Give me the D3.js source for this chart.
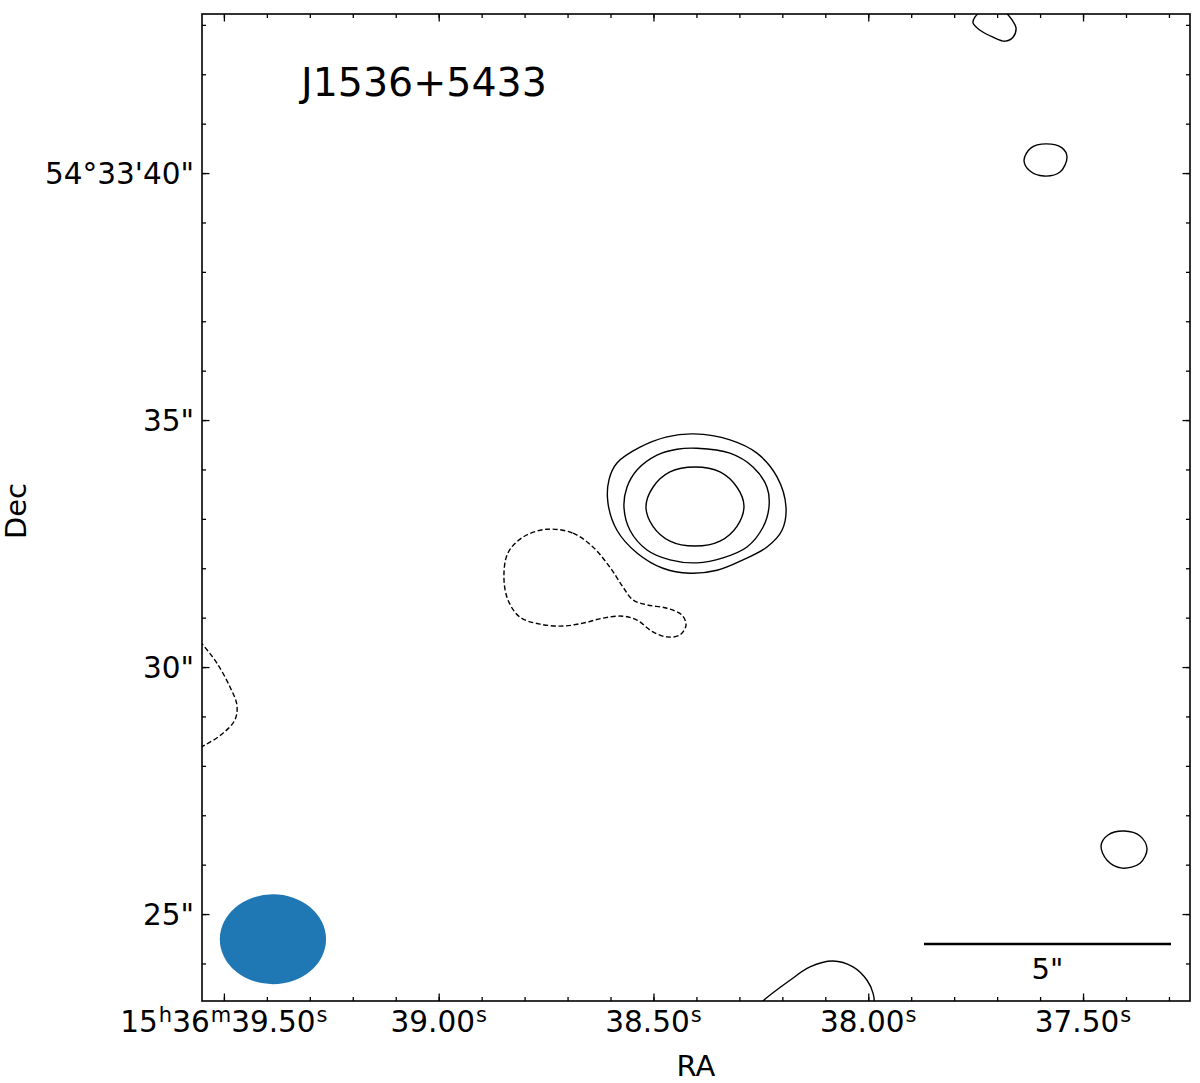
<!DOCTYPE html>
<html>
<head>
<meta charset="utf-8">
<script src="https://cdn.jsdelivr.net/npm/d3@7"></script>
<style>
  body { margin: 0; background: #fff; }
  text { font-family: "DejaVu Sans", sans-serif; fill: #000; }
</style>
</head>
<body>
<div id="chart"></div>
<script>
// Axis ticks (RA in seconds of time, Dec in arcsec past 54°33')
const raTicks = [39.5, 39.0, 38.5, 38.0, 37.5];
const raTickLabels = [["15", "h", "36", "m", "39.50", "s"], ["39.00", "s"], ["38.50", "s"], ["38.00", "s"], ["37.50", "s"]];
const decTicks = [25, 30, 35, 40];
const decTickLabels = ["25\"", "30\"", "35\"", "54°33'40\""];

// Contours, [RA s, Dec arcsec]
const contourOuter = [
  [38.4057, 34.72], [38.3219, 34.60], [38.2590, 34.33], [38.2124, 33.85], [38.1915, 33.24],
  [38.2008, 32.77], [38.2357, 32.43], [38.2916, 32.17], [38.3521, 31.96], [38.4150, 31.90],
  [38.4779, 32.00], [38.5384, 32.31], [38.5850, 32.77], [38.6059, 33.32], [38.6036, 33.79],
  [38.5850, 34.13], [38.5314, 34.45], [38.4686, 34.66]
];
const contourMiddle = [
  [38.3987, 34.43], [38.3219, 34.33], [38.2683, 34.05], [38.2357, 33.64], [38.2311, 33.24],
  [38.2451, 32.83], [38.2823, 32.43], [38.3382, 32.21], [38.3987, 32.11], [38.4616, 32.17],
  [38.5151, 32.37], [38.5547, 32.77], [38.5687, 33.24], [38.5617, 33.64], [38.5384, 33.99],
  [38.4919, 34.29], [38.4453, 34.41]
];
const contourInner = [
  [38.2893, 33.26], [38.3056, 33.64], [38.3452, 33.95], [38.4034, 34.05], [38.4616, 33.95],
  [38.5012, 33.64], [38.5175, 33.24], [38.5012, 32.85], [38.4616, 32.55], [38.4034, 32.45],
  [38.3452, 32.55], [38.3056, 32.85]
];
const contourNeg = [
  [38.7480, 32.79], [38.6874, 32.71], [38.6409, 32.43], [38.6013, 32.02], [38.5710, 31.62],
  [38.5477, 31.36], [38.5151, 31.26], [38.4686, 31.19], [38.4336, 31.05], [38.4243, 30.85],
  [38.4383, 30.65], [38.4686, 30.61], [38.5012, 30.71], [38.5384, 30.95], [38.5710, 31.03],
  [38.6176, 30.99], [38.6641, 30.89], [38.7107, 30.83], [38.7643, 30.87], [38.8108, 31.01],
  [38.8388, 31.36], [38.8481, 31.82], [38.8388, 32.31], [38.8038, 32.63]
];
const contourNE = [
  [37.5373, 40.32], [37.5489, 40.51], [37.5861, 40.59], [37.6211, 40.51],
  [37.6374, 40.26], [37.6234, 40.04], [37.5908, 39.94], [37.5536, 40.02]
];
const contourSE = [
  [37.3510, 26.32], [37.3673, 26.58], [37.4045, 26.68], [37.4418, 26.60],
  [37.4581, 26.38], [37.4441, 26.09], [37.4092, 25.93], [37.3673, 26.03]
];
// open pieces cut by the frame
const contourTop = [
  [37.7282, 43.34], [37.7514, 43.16], [37.7561, 43.04], [37.7398, 42.89], [37.7095, 42.75],
  [37.6816, 42.67], [37.6630, 42.75], [37.6560, 42.94], [37.6653, 43.10], [37.6886, 43.34]
];
const contourSouth = [
  [38.2637, 23.06], [38.2451, 23.24], [38.1822, 23.66], [38.1356, 23.93], [38.0821, 24.05],
  [38.0355, 23.93], [38.0029, 23.66], [37.9889, 23.40], [37.9843, 23.06]
];
const contourWestNeg = [
  [39.5792, 30.75], [39.5489, 30.45], [39.5163, 30.08], [39.4860, 29.60], [39.4697, 29.23],
  [39.4744, 28.93], [39.5023, 28.66], [39.5442, 28.42], [39.5792, 28.28]
];

// Beam (arcsec)
const beamCenter = [39.3859, 24.49];
const beamSize = [2.15, 1.82];
const scaleBarArcsec = 5;

const W = 1200, H = 1083;
const margin = { left: 202, top: 14, right: 10, bottom: 82 };
const iw = W - margin.left - margin.right;
const ih = H - margin.top - margin.bottom;

const svg = d3.select("#chart").append("svg")
  .attr("width", W)
  .attr("height", H);

const x = d3.scaleLinear().domain([39.551, 37.251]).range([0, iw]);
const y = d3.scaleLinear().domain([23.24, 43.22]).range([ih, 0]);
const pxPerArcsec = Math.abs(y(1) - y(0));

const g = svg.append("g").attr("transform", `translate(${margin.left},${margin.top})`);

g.append("clipPath").attr("id", "frame")
  .append("rect").attr("width", iw).attr("height", ih);

const plot = g.append("g").attr("clip-path", "url(#frame)");

// Contours
const closedLine = d3.line().x(d => x(d[0])).y(d => y(d[1])).curve(d3.curveCatmullRomClosed.alpha(0.5));
const openLine = d3.line().x(d => x(d[0])).y(d => y(d[1])).curve(d3.curveCatmullRom.alpha(0.5));

const closedSet = [
  { pts: contourOuter, dash: false }, { pts: contourMiddle, dash: false }, { pts: contourInner, dash: false },
  { pts: contourNeg, dash: true }, { pts: contourNE, dash: false }, { pts: contourSE, dash: false }
];
const openSet = [
  { pts: contourTop, dash: false }, { pts: contourSouth, dash: false }, { pts: contourWestNeg, dash: true }
];

plot.selectAll("path.closed").data(closedSet).enter().append("path")
  .attr("class", "closed")
  .attr("d", d => closedLine(d.pts))
  .attr("fill", "none")
  .attr("stroke", "#000")
  .attr("stroke-width", 1.4)
  .attr("stroke-dasharray", d => d.dash ? "5,2.6" : null);

plot.selectAll("path.open").data(openSet).enter().append("path")
  .attr("class", "open")
  .attr("d", d => openLine(d.pts))
  .attr("fill", "none")
  .attr("stroke", "#000")
  .attr("stroke-width", 1.4)
  .attr("stroke-dasharray", d => d.dash ? "5,2.6" : null);

// Beam
plot.append("ellipse")
  .attr("cx", x(beamCenter[0]))
  .attr("cy", y(beamCenter[1]))
  .attr("rx", beamSize[0] / 2 * pxPerArcsec)
  .attr("ry", beamSize[1] / 2 * pxPerArcsec)
  .attr("fill", "#1f77b4");

// Scale bar (5 arcsec)
const barRight = iw - 19, barY = 930;
const barLen = scaleBarArcsec * pxPerArcsec;
g.append("line")
  .attr("x1", barRight - barLen).attr("x2", barRight)
  .attr("y1", barY).attr("y2", barY)
  .attr("stroke", "#000").attr("stroke-width", 2.5);
g.append("text")
  .attr("x", barRight - barLen / 2).attr("y", barY + 35)
  .attr("text-anchor", "middle")
  .style("font-size", "29px")
  .text(scaleBarArcsec + "\"");

// Ticks on all four sides, pointing in
const raMinor = d3.range(39.5, 37.2, -0.1).filter(v => v < 39.551);
const decMinor = d3.range(24, 44, 1);

function tickAxis(axis, values, size) {
  return axis.tickValues(values).tickSizeInner(size).tickSizeOuter(0).tickFormat("");
}
const sides = [
  [() => d3.axisBottom(x), `translate(0,${ih})`, true],
  [() => d3.axisTop(x), "translate(0,0)", true],
  [() => d3.axisLeft(y), "translate(0,0)", false],
  [() => d3.axisRight(y), `translate(${iw},0)`, false]
];
sides.forEach(([mk, tr, isX]) => {
  const gMinor = g.append("g").attr("transform", tr)
    .call(tickAxis(mk(), isX ? raMinor : decMinor, -4));
  const gMajor = g.append("g").attr("transform", tr)
    .call(tickAxis(mk(), isX ? raTicks : decTicks, -7.5));
  [gMinor, gMajor].forEach(a => {
    a.select(".domain").remove();
    a.selectAll("line").attr("stroke", "#000").attr("stroke-width", 1.3);
  });
});

// Frame
g.append("rect")
  .attr("width", iw).attr("height", ih)
  .attr("fill", "none").attr("stroke", "#000").attr("stroke-width", 1.6);

// RA tick labels with superscripts
const raLab = g.append("g").selectAll("text").data(raTicks).enter().append("text")
  .attr("x", d => x(d))
  .attr("y", ih + 31)
  .attr("text-anchor", "middle")
  .style("font-size", "29.5px");
raLab.each(function (d, i) {
  const parts = raTickLabels[i];
  const t = d3.select(this);
  parts.forEach((p, j) => {
    const sup = j % 2 === 1;
    t.append("tspan")
      .attr("dy", sup ? -10 : (j > 0 ? 10 : 0))
      .attr("dx", sup ? 1 : 0)
      .style("font-size", sup ? "21px" : "29.5px")
      .text(p);
  });
});

// Dec tick labels
g.append("g").selectAll("text").data(decTicks).enter().append("text")
  .attr("x", -8)
  .attr("y", d => y(d))
  .attr("dy", "0.36em")
  .attr("text-anchor", "end")
  .style("font-size", "29.5px")
  .text((d, i) => decTickLabels[i]);

// Axis titles
svg.append("text")
  .attr("x", 696).attr("y", 1076)
  .attr("text-anchor", "middle")
  .style("font-size", "29px")
  .text("RA");
svg.append("text")
  .attr("transform", "translate(26,511) rotate(-90)")
  .attr("text-anchor", "middle")
  .style("font-size", "29px")
  .text("Dec");

// Source name
svg.append("text")
  .attr("x", 301).attr("y", 96)
  .style("font-size", "39.5px")
  .text("J1536+5433");
</script>
</body>
</html>
